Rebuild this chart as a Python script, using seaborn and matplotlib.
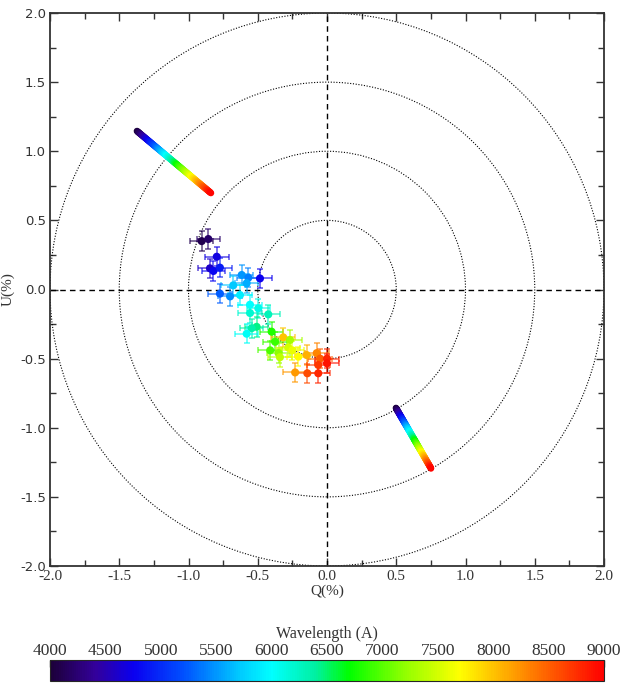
import numpy as np
import pandas as pd
import matplotlib
matplotlib.use("Agg")
import matplotlib.pyplot as plt
import seaborn as sns
from matplotlib.colors import LinearSegmentedColormap, Normalize
from matplotlib.collections import LineCollection
from matplotlib.patches import Circle
from matplotlib.ticker import MultipleLocator

# Observed Stokes Q/U (%) with uncertainties and wavelength (Angstrom)
q_pct = [-0.905, -0.857, -0.796, -0.845, -0.820, -0.773, -0.484, -0.616, -0.568,
         -0.580, -0.677, -0.773, -0.700, -0.628, -0.556, -0.496, -0.556, -0.424,
         -0.508, -0.544, -0.580, -0.400, -0.316, -0.267, -0.375, -0.410, -0.350,
         -0.340, -0.280, -0.250, -0.207, -0.147, -0.074, -0.050, 0.000, -0.063,
         0.000, -0.230, -0.142, -0.063]
u_pct = [0.350, 0.365, 0.237, 0.153, 0.134, 0.158, 0.080, 0.105, 0.085,
         0.045, 0.030, -0.030, -0.050, -0.040, -0.110, -0.136, -0.170, -0.180,
         -0.270, -0.280, -0.320, -0.305, -0.346, -0.365, -0.378, -0.440, -0.460,
         -0.490, -0.420, -0.440, -0.486, -0.474, -0.460, -0.500, -0.500, -0.546,
         -0.534, -0.600, -0.606, -0.606]
wave = [4100, 4200, 4700, 4600, 4800, 4900, 4750, 5500, 5400,
        5600, 5700, 5250, 5450, 5900, 6000, 6100, 6200, 6300,
        6450, 6350, 6050, 6800, 8000, 7300, 6900, 6950, 7200,
        7400, 7500, 7600, 7700, 8100, 8300, 8500, 8800, 8700,
        8900, 8200, 8600, 8800]
q_err = [0.085] * len(q_pct)
u_err = [0.07] * len(u_pct)

# Interstellar polarization model tracks: (Q, U) endpoints, blue end -> red end
isp_a_q = [-1.372, -0.838]
isp_a_u = [1.146, 0.698]
isp_b_q = [0.498, 0.751]
isp_b_u = [-0.857, -1.294]
wave_range = [4000, 9000]

circle_radii = [0.5, 1.0, 1.5, 2.0]
cbar_ticks = [4000, 4500, 5000, 5500, 6000, 6500, 7000, 7500, 8000, 8500, 9000]

sns.set_style("ticks")
plt.rcParams["font.family"] = ["Liberation Serif", "DejaVu Serif"]

rainbow = LinearSegmentedColormap.from_list(
    "rainbow_wl",
    [(0.00, "#1c0038"), (0.08, "#33009a"), (0.15, "#0a00f0"), (0.24, "#0050ff"),
     (0.34, "#00c8ff"), (0.40, "#00ffff"), (0.48, "#00f0a0"), (0.54, "#00ff00"),
     (0.64, "#90ff00"), (0.74, "#ffff00"), (0.82, "#ffb000"), (0.90, "#ff6000"),
     (1.00, "#ff0000")])
norm = Normalize(vmin=wave_range[0], vmax=wave_range[1])

fig = plt.figure(figsize=(6.26, 6.84), dpi=100)
ax = fig.add_axes([50 / 626, 1 - 566 / 684, 554 / 626, 553 / 684])
cax = fig.add_axes([50 / 626, 1 - 681 / 684, 554 / 626, 21 / 684])

# reference circles and axes lines
for r in circle_radii:
    ax.add_patch(Circle((0, 0), r, fill=False, ls=(0, (1, 1.5)), lw=0.8,
                        color="black", zorder=1))
ax.axhline(0, color="black", ls=(0, (4, 3)), lw=1.0, zorder=1)
ax.axvline(0, color="black", ls=(0, (4, 3)), lw=1.0, zorder=1)


def gradient_track(qs, us):
    n = 120
    t = np.linspace(0, 1, n)
    x = qs[0] + (qs[1] - qs[0]) * t
    y = us[0] + (us[1] - us[0]) * t
    pts = np.column_stack([x, y]).reshape(-1, 1, 2)
    segs = np.concatenate([pts[:-1], pts[1:]], axis=1)
    wl = wave_range[0] + (wave_range[1] - wave_range[0]) * (t[:-1] + t[1:]) / 2
    lc = LineCollection(segs, colors=rainbow(norm(wl)), linewidths=4.8,
                        capstyle="round", zorder=3)
    ax.add_collection(lc)


gradient_track(isp_a_q, isp_a_u)
gradient_track(isp_b_q, isp_b_u)

df = pd.DataFrame({"Q": q_pct, "U": u_pct, "dQ": q_err, "dU": u_err, "wl": wave})
for _, row in df.iterrows():
    c = rainbow(norm(row.wl))
    ax.errorbar(row.Q, row.U, xerr=row.dQ, yerr=row.dU, fmt="none", ecolor=c,
                elinewidth=1.3, capsize=2.5, capthick=1.3, alpha=0.6, zorder=4)
sns.scatterplot(data=df, x="Q", y="U", hue="wl", palette=rainbow, hue_norm=norm,
                s=34, edgecolor="none", legend=False, ax=ax, zorder=5)

ax.set_xlim(-2, 2)
ax.set_ylim(-2, 2)
ax.xaxis.set_major_locator(MultipleLocator(0.5))
ax.xaxis.set_minor_locator(MultipleLocator(0.25))
ax.yaxis.set_major_locator(MultipleLocator(0.5))
ax.yaxis.set_minor_locator(MultipleLocator(0.25))
ax.xaxis.set_major_formatter(matplotlib.ticker.FormatStrFormatter("%.1f"))
ax.yaxis.set_major_formatter(matplotlib.ticker.FormatStrFormatter("%.1f"))
ax.tick_params(which="both", direction="in", top=True, right=True, width=1.0,
               colors="#333333", labelcolor="#333333")
ax.tick_params(which="major", length=6, pad=3)
ax.tick_params(which="minor", length=4)
for lab in ax.get_yticklabels():
    lab.set_family("DejaVu Sans")
    lab.set_fontsize(9.5)
for lab in ax.get_xticklabels():
    lab.set_fontsize(11)
for sp in ax.spines.values():
    sp.set_linewidth(1.3)
    sp.set_color("#333333")
ax.set_xlabel("Q(%)", fontsize=11, color="#333333", labelpad=1)
ax.set_ylabel("U(%)", fontsize=11, color="#333333", labelpad=4)

sm = plt.cm.ScalarMappable(cmap=rainbow, norm=norm)
cb = fig.colorbar(sm, cax=cax, orientation="horizontal", ticklocation="top")
cb.set_ticks(cbar_ticks)
cb.ax.xaxis.set_minor_locator(MultipleLocator(250))
cb.ax.tick_params(which="both", direction="in", length=5, width=1.0,
                  labelsize=12.5, colors="#333333", pad=1)
cb.ax.tick_params(which="minor", length=3)
cb.outline.set_linewidth(0.8)
cb.set_label("Wavelength (A)", fontsize=11.5, color="#333333", labelpad=3)

fig.savefig("out.png", dpi=100)
